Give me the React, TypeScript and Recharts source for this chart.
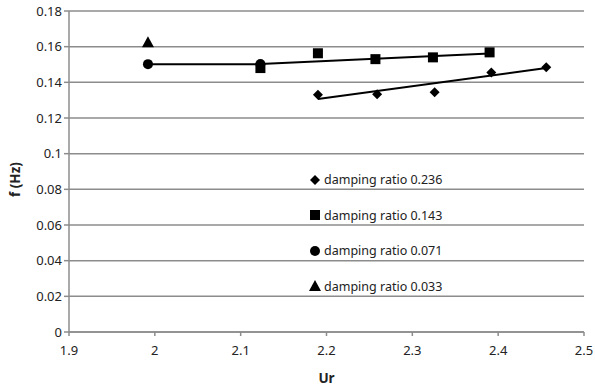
import React from "react";
import {
  ScatterChart,
  Scatter,
  XAxis,
  YAxis,
  CartesianGrid,
  Label,
} from "recharts";

// ─── Data ────────────────────────────────────────────────────
const X_TICKS = [1.9, 2.0, 2.1, 2.2, 2.3, 2.4, 2.5];
const Y_TICKS = [0, 0.02, 0.04, 0.06, 0.08, 0.1, 0.12, 0.14, 0.16, 0.18];

const damping0236 = [
  { ur: 2.19, f: 0.133 },
  { ur: 2.259, f: 0.1333 },
  { ur: 2.326, f: 0.1345 },
  { ur: 2.392, f: 0.1455 },
  { ur: 2.456, f: 0.1485 },
];
const damping0143 = [
  { ur: 2.123, f: 0.148 },
  { ur: 2.19, f: 0.1563 },
  { ur: 2.257, f: 0.153 },
  { ur: 2.324, f: 0.154 },
  { ur: 2.39, f: 0.1568 },
];
const damping0071 = [
  { ur: 1.992, f: 0.1502 },
  { ur: 2.123, f: 0.1503 },
];
const damping0033 = [{ ur: 1.992, f: 0.1625 }];

// linear trendlines (end points)
const trend0236 = [
  { ur: 2.19, f: 0.1307 },
  { ur: 2.456, f: 0.148 },
];
const trend0143 = [
  { ur: 2.123, f: 0.1503 },
  { ur: 2.39, f: 0.1562 },
];
const trend0071 = [
  { ur: 1.992, f: 0.1502 },
  { ur: 2.123, f: 0.1501 },
];

const FONT = "'Noto Sans', 'Open Sans', sans-serif";
const GRID = "#8c8c8c";

type Kind = "diamond" | "square" | "circle" | "triangle";

const Marker = ({ cx, cy, kind }: { cx: number; cy: number; kind: Kind }) => {
  if (kind === "diamond")
    return (
      <polygon
        points={`${cx},${cy - 5} ${cx + 5},${cy} ${cx},${cy + 5} ${cx - 5},${cy}`}
        fill="#000"
      />
    );
  if (kind === "square")
    return <rect x={cx - 5} y={cy - 5} width={10} height={10} fill="#000" />;
  if (kind === "circle") return <circle cx={cx} cy={cy} r={5} fill="#000" />;
  return (
    <polygon
      points={`${cx},${cy - 6} ${cx + 6},${cy + 5} ${cx - 6},${cy + 5}`}
      fill="#000"
    />
  );
};

const SERIES: { name: string; data: { ur: number; f: number }[]; kind: Kind }[] = [
  { name: "damping ratio 0.236", data: damping0236, kind: "diamond" },
  { name: "damping ratio 0.143", data: damping0143, kind: "square" },
  { name: "damping ratio 0.071", data: damping0071, kind: "circle" },
  { name: "damping ratio 0.033", data: damping0033, kind: "triangle" },
];

const TRENDS = [trend0236, trend0143, trend0071];

const fmt = (v: number) => String(Number(v.toFixed(2)));

// legend sits inside the plot area, one row per gridline band
const LegendBox = () => (
  <div
    style={{
      position: "absolute",
      left: 308,
      top: 162,
      fontFamily: FONT,
      fontSize: 12.5,
      color: "#222",
    }}
  >
    {SERIES.map((s) => (
      <div
        key={s.name}
        style={{ height: 35.5, display: "flex", alignItems: "center", whiteSpace: "nowrap" }}
      >
        <svg width={14} height={14} style={{ marginRight: 2 }}>
          <Marker cx={7} cy={7} kind={s.kind} />
        </svg>
        <span>{s.name}</span>
      </div>
    ))}
  </div>
);

export default function App() {
  return (
    <div style={{ position: "absolute", left: 0, top: 0, width: 595, height: 387, background: "#fff" }}>
      <ScatterChart
        width={595}
        height={387}
        margin={{ top: 11, right: 11, bottom: 4, left: 8 }}
      >
        <CartesianGrid horizontal vertical={false} stroke={GRID} strokeWidth={1.5} />
        <XAxis
          type="number"
          dataKey="ur"
          domain={[1.9, 2.5]}
          ticks={X_TICKS}
          tickFormatter={fmt}
          allowDataOverflow
          height={51}
          stroke={GRID}
          strokeWidth={1.5}
          tickSize={4}
          tickMargin={10}
          tick={{ fontSize: 13, fontFamily: FONT, fill: "#222" }}
        >
          <Label
            value="Ur"
            position="insideBottom"
            offset={0}
            style={{ fontSize: 13.5, fontWeight: 700, fontFamily: FONT, fill: "#222" }}
          />
        </XAxis>
        <YAxis
          type="number"
          dataKey="f"
          domain={[0, 0.18]}
          ticks={Y_TICKS}
          tickFormatter={fmt}
          allowDataOverflow
          width={61}
          stroke={GRID}
          strokeWidth={1.5}
          tickSize={5}
          tick={{ fontSize: 13, fontFamily: FONT, fill: "#222" }}
        >
          <Label
            value="f (Hz)"
            angle={-90}
            position="insideLeft"
            offset={0}
            dx={7}
            dy={8}
            style={{ fontSize: 13.5, fontWeight: 700, fontFamily: FONT, fill: "#222", textAnchor: "middle" }}
          />
        </YAxis>
        {TRENDS.map((t, i) => (
          <Scatter
            key={"t" + i}
            data={t}
            line={{ stroke: "#000", strokeWidth: 2 }}
            shape={() => <g />}
            legendType="none"
            isAnimationActive={false}
          />
        ))}
        {SERIES.map((s) => (
          <Scatter
            key={s.name}
            name={s.name}
            data={s.data}
            shape={(p: any) => <Marker cx={p.cx} cy={p.cy} kind={s.kind} />}
            isAnimationActive={false}
          />
        ))}
      </ScatterChart>
      <LegendBox />
    </div>
  );
}
